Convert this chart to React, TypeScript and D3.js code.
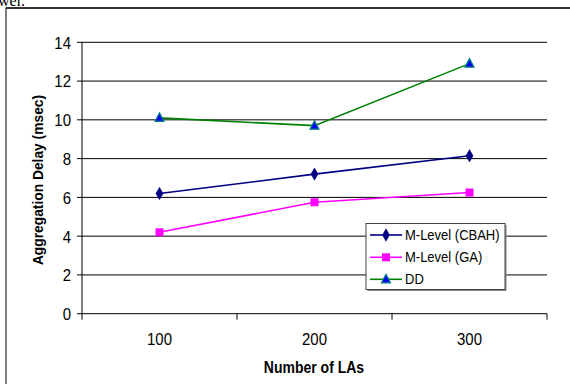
import React from "react";
import * as d3 from "d3";

const categories = ["100", "200", "300"];
const yTicks = [0, 2, 4, 6, 8, 10, 12, 14];
const cbah = [6.2, 7.2, 8.15];
const ga = [4.2, 5.75, 6.25];
const dd = [10.1, 9.7, 12.9];

const seriesNames = ["M-Level (CBAH)", "M-Level (GA)", "DD"];

const W = 570;
const H = 384;
const left = 82;
const right = 547;
const top = 42.3;
const bottom = 313.7;
const font = "Arial, 'Liberation Sans', sans-serif";

// Text drawn slightly taller than wide, like the rest of the figure
function TallText({
  x,
  y,
  size,
  sy = 1.12,
  anchor = "start",
  weight = "normal",
  dy,
  children,
}: {
  x: number;
  y: number;
  size: number;
  sy?: number;
  anchor?: string;
  weight?: string;
  dy?: string;
  children: React.ReactNode;
}) {
  return (
    <g transform={`translate(${x},${y}) scale(1,${sy})`}>
      <text
        x={0}
        y={0}
        dy={dy}
        textAnchor={anchor}
        fontFamily={font}
        fontSize={size}
        fontWeight={weight}
        fill="#000"
      >
        {children}
      </text>
    </g>
  );
}

function Marker({ kind, x, y }: { kind: number; x: number; y: number }) {
  if (kind === 0) {
    const p = d3.symbol().type(d3.symbolDiamond).size(44)();
    return <path d={p || ""} transform={`translate(${x},${y})`} fill="#000080" stroke="#000080" strokeWidth={0.5} />;
  }
  if (kind === 1) {
    return <rect x={x - 4} y={y - 4} width={8} height={8} fill="#FF00FF" />;
  }
  return (
    <path
      d={`M${x},${y - 5}L${x + 4.5},${y + 3.5}L${x - 4.5},${y + 3.5}Z`}
      fill="#0000FF"
      stroke="#008080"
      strokeWidth={1.2}
    />
  );
}

export default function App() {
  const x = d3.scaleBand<string>().domain(categories).range([left, right]);
  const y = d3.scaleLinear().domain([0, 14]).range([bottom, top]);
  const series = [
    { values: cbah, color: "#000080" },
    { values: ga, color: "#FF00FF" },
    { values: dd, color: "#008000" },
  ];
  const cx = (i: number) => (x(categories[i]) as number) + x.bandwidth() / 2;
  const line = d3
    .line<number>()
    .x((_, i) => cx(i))
    .y((v) => y(v));

  const xEdges = [...categories.map((c) => x(c) as number), right];
  const legendX = 366;
  const legendY = 223.5;
  const legendRows = [235, 257.3, 279.3];

  return (
    <svg
      width={W}
      height={H}
      style={{ position: "fixed", left: 0, top: 0, display: "block", background: "#fff" }}
    >
      <text x={-2} y={6} fontFamily="'Times New Roman', 'Liberation Serif', serif" fontSize={16} fill="#000">
        wer.
      </text>
      {/* outer chart frame */}
      <rect x={6} y={8} width={600} height={400} fill="#fff" stroke="#000" strokeWidth={1} />
      <line x1={6} x2={570} y1={8} y2={8} stroke="#333" strokeWidth={2} />

      {/* horizontal gridlines and value axis */}
      {yTicks.map((t) => (
        <g key={t}>
          <line x1={left - 5} x2={right} y1={y(t)} y2={y(t)} stroke="#000" strokeWidth={1} />
          <TallText x={71} y={y(t) + 0.5} size={15} anchor="end" dy="0.35em">
            {t}
          </TallText>
        </g>
      ))}
      <line x1={left} x2={left} y1={top} y2={bottom} stroke="#000" strokeWidth={1} />

      {/* category axis */}
      {xEdges.map((e, i) => (
        <line key={i} x1={e} x2={e} y1={bottom} y2={bottom + 6} stroke="#000" strokeWidth={1} />
      ))}
      {categories.map((c, i) => (
        <TallText key={c} x={cx(i)} y={344.7} size={15} anchor="middle">
          {c}
        </TallText>
      ))}

      <TallText x={314} y={372.7} size={14} sy={1.2} anchor="middle" weight="bold">
        Number of LAs
      </TallText>
      <text
        transform={`translate(43,180) rotate(-90)`}
        textAnchor="middle"
        fontFamily={font}
        fontSize={13.8}
        fontWeight="bold"
      >
        Aggregation Delay (msec)
      </text>

      {series.map((s, si) => (
        <g key={si}>
          <path d={line(s.values) || ""} fill="none" stroke={s.color} strokeWidth={1.6} />
          {s.values.map((v, i) => (
            <Marker key={i} kind={si} x={cx(i)} y={y(v)} />
          ))}
        </g>
      ))}

      {/* legend */}
      <rect x={legendX + 1.5} y={legendY + 1.5} width={139} height={66} fill="#888" />
      <rect x={legendX} y={legendY} width={139} height={66} fill="#fff" stroke="#444" strokeWidth={1} />
      {seriesNames.map((n, i) => (
        <g key={n}>
          <line
            x1={legendX + 4}
            x2={legendX + 36}
            y1={legendRows[i]}
            y2={legendRows[i]}
            stroke={series[i].color}
            strokeWidth={1.6}
          />
          <Marker kind={i} x={legendX + 20} y={legendRows[i]} />
          <TallText x={legendX + 39} y={legendRows[i]} size={13} sy={1.1} dy="0.35em">
            {n}
          </TallText>
        </g>
      ))}
    </svg>
  );
}
